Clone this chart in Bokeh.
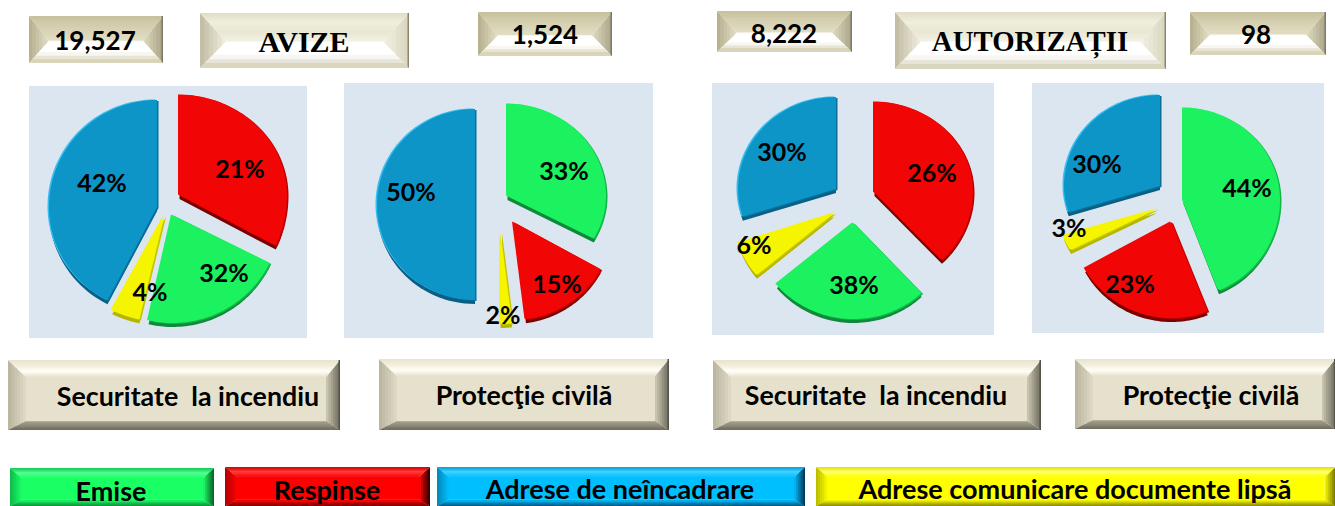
import numpy as np
from bokeh.plotting import figure
from bokeh.models import ColumnDataSource
from bokeh.core.properties import value
from bokeh.embed import file_html
from bokeh.resources import INLINE

# ---------- data ----------
top_numbers = ["19,527", "1,524", "8,222", "98"]
group_titles = ["AVIZE", "AUTORIZAȚII"]
panel_titles = ["Securitate \u00a0la incendiu", "Protecţie civilă", "Securitate \u00a0la incendiu", "Protecţie civilă"]
legend_names = ["Emise", "Respinse", "Adrese de neîncadrare", "Adrese comunicare documente lipsă"]

# slices, clockwise from the top; drawn share and printed label
pie1_series = ["Respinse", "Emise", "Lipsa", "Neincadrare"]
pie1_shares = [32, 21, 4, 42]
pie1_labels = [21, 32, 4, 42]
pie2_series = ["Emise", "Respinse", "Lipsa", "Neincadrare"]
pie2_shares = [33, 15, 2, 50]
pie2_labels = [33, 15, 2, 50]
pie3_series = ["Respinse", "Emise", "Lipsa", "Neincadrare"]
pie3_shares = [38, 26, 6, 30]
pie3_labels = [26, 38, 6, 30]
pie4_series = ["Emise", "Respinse", "Lipsa", "Neincadrare"]
pie4_shares = [44, 23, 3, 30]
pie4_labels = [44, 23, 3, 30]

# ---------- styles and layout ----------
SLICE_COL = {  # face, depth, rim-light, rim-dark
    "Emise": ("#1CF25F", "#0E8A3A", "#1CF25F", "#12B648"),
    "Respinse": ("#F20505", "#7A0000", "#F20505", "#B80000"),
    "Neincadrare": ("#0D95C8", "#0A5F85", "#35BDF0", "#0A6E98"),
    "Lipsa": ("#F5F500", "#B5B500", "#F5F500", "#C4C400"),
}
# per slice: tip x, tip y, rx, radius upward, radius downward
pie_layout = [
    [(179.5, 195, 107.5, 100, 114), (172.5, 215, 108.5, 100, 108), (164.5, 216, 114, 100, 106), (157, 207, 108, 107, 105)],
    [(507.5, 196, 98.5, 92, 88), (513.5, 222, 99.5, 90, 98), (500.5, 232, 93, 90, 92), (475, 205, 98, 96, 95)],
    [(874.5, 192, 98.5, 90, 93), (853.5, 223, 99.5, 90, 96), (834.5, 213, 100.5, 90, 97), (836, 189, 98, 92, 90)],
    [(1183.5, 200, 96.5, 92, 97), (1171.5, 222, 98.5, 90, 96), (1157.5, 209, 98.5, 90, 85), (1160, 186, 96, 91, 85)],
]
label_pos = [
    [(240, 168), (224, 272), (150, 291), (102, 182)],
    [(564, 170), (557, 283), (503, 314), (411, 191)],
    [(932, 172), (854, 284), (754, 244), (782, 151)],
    [(1247, 187), (1130, 283), (1069, 227), (1097, 163)],
]
panel_boxes = [(29, 86, 307, 338), (344, 83, 653, 338), (712, 83, 994, 335), (1032, 83, 1324, 333)]
number_boxes = [(29, 16, 163, 63), (478, 12, 612, 56), (717, 11, 852, 52), (1190, 12, 1326, 55)]
number_pos = [(95, 40), (545, 34), (784, 33), (1256, 34)]
title_boxes = [(200, 13, 409, 68), (895, 12, 1166, 69)]
title_pos = [(304, 41), (1030, 41)]
panel_title_boxes = [(8, 360, 340, 430), (379, 359, 669, 430), (713, 360, 1041, 430), (1075, 359, 1335.5, 429)]
panel_title_pos = [(188, 396), (524, 395), (876, 395), (1211, 395)]
legend_boxes = [(10, 468, 214, 506.5), (225, 467, 430, 506.5), (437, 467, 805, 506.5), (816, 467, 1335.5, 506.5)]
legend_pos = [(111, 490), (327, 489), (620, 488), (1075, 488)]

p = figure(width=1335, height=506, x_range=(0.5, 1335.5), y_range=(506.5, 0.5),
           toolbar_location=None, output_backend="svg", min_border=0,
           background_fill_color="white", border_fill_color="white", outline_line_color=None)
p.axis.visible = False
p.grid.visible = False

xs, ys, cols = [], [], []


def poly(x, y, c):
    xs.append(list(x))
    ys.append(list(y))
    cols.append(c)


def mix(a, b, t):
    a = [int(a[i:i + 2], 16) for i in (1, 3, 5)]
    b = [int(b[i:i + 2], 16) for i in (1, 3, 5)]
    return "#%02X%02X%02X" % tuple(round(u + (v - u) * t) for u, v in zip(a, b))


def ramp(stops, t):
    k = len(stops) - 1
    i = min(int(t * k), k - 1)
    return mix(stops[i], stops[i + 1], t * k - i)


def v_trap(x0a, x1a, ya, x0b, x1b, yb, stops, n=8):
    """Trapezoid between two horizontal sides, with strips of colour."""
    for i in range(n):
        t0, t1 = i / n, (i + 1) / n
        t1e = min(1, t1 + 0.6 / max(abs(yb - ya), 1))
        poly([x0a + (x0b - x0a) * t0, x1a + (x1b - x1a) * t0, x1a + (x1b - x1a) * t1e, x0a + (x0b - x0a) * t1e],
             [ya + (yb - ya) * t0, ya + (yb - ya) * t0, ya + (yb - ya) * t1e, ya + (yb - ya) * t1e],
             ramp(stops, (t0 + t1) / 2))


def h_trap(xa, y0a, y1a, xb, y0b, y1b, stops, n=6):
    """Trapezoid between two vertical sides, with strips of colour."""
    for i in range(n):
        t0, t1 = i / n, (i + 1) / n
        t1e = min(1, t1 + 0.6 / max(abs(xb - xa), 1))
        poly([xa + (xb - xa) * t0, xa + (xb - xa) * t1e, xa + (xb - xa) * t1e, xa + (xb - xa) * t0],
             [y0a + (y0b - y0a) * t0, y0a + (y0b - y0a) * t1e, y1a + (y1b - y1a) * t1e, y1a + (y1b - y1a) * t0],
             ramp(stops, (t0 + t1) / 2))


def bevel(box, bl, br, bt, bb, s):
    x0, y0, x1, y1 = box
    ix0, ix1, iy0, iy1 = x0 + bl, x1 - br, y0 + bt, y1 - bb
    h_trap(x0, y0, y1, ix0, iy0, iy1, s["left"])
    h_trap(x1, y0, y1, ix1, iy0, iy1, s["right"])
    v_trap(x0, x1, y0, ix0, ix1, iy0, s["top"], n=12)
    v_trap(x0, x1, y1, ix0, ix1, iy1, s["bottom"], n=6)
    if iy1 > iy0:
        poly([ix0, ix1, ix1, ix0], [iy0 - 0.3, iy0 - 0.3, iy1 + 0.3, iy1 + 0.3], s["face"])
    b = s.get("edge")
    if b:
        poly([x1 - 1.5, x1, x1, x1 - 1.5], [y0, y0, y1, y1], b)


# ---------- backgrounds ----------
for b in panel_boxes:
    poly([b[0], b[2], b[2], b[0]], [b[1], b[1], b[3], b[3]], "#DCE6F1")

# ---------- bevelled plates ----------
small_style = {"left": ("#B4AE8C", "#E4E0C8"), "right": ("#A8A386", "#E0DCC0"),
               "top": ("#C6C09C", "#D6D1B2", "#E2DEC4"), "bottom": ("#CFCAAA", "#FFFFFF", "#FFFFFF"),
               "face": "#F6F4E8", "edge": "#7E7A62"}
title_style = {"left": ("#BFBAA0", "#F0EEE0"), "right": ("#D8D4BC", "#F4F2E6"),
               "top": ("#E0DCC8", "#F0EEDC", "#E9E6D2", "#F3F1E4"), "bottom": ("#CFCBB3", "#FFFFFF", "#FFFFFF"),
               "face": "#F8F7EF", "edge": "#8A866E"}
panel_style = {"left": ("#B8B39D", "#E0DBC6"), "right": ("#6A675A", "#CFCBB5"),
               "top": ("#E8E3CD", "#F2EEDC", "#FFFFF8", "#E6E1CC"), "bottom": ("#6C695A", "#8E8B78", "#A6A28E"),
               "face": "#E6E1CC", "edge": "#55534A"}
legend_styles = [
    {"left": ("#0FB84C", "#1AFF64"), "right": ("#075E26", "#1AFF64"),
     "top": ("#10C850", "#50FF92", "#1AFF64"), "bottom": ("#0A8A36", "#1AFF64"), "face": "#1AFF64"},
    {"left": ("#B00000", "#FF0000"), "right": ("#2A0000", "#FF0000"),
     "top": ("#D80000", "#FF3A3A", "#FF0000"), "bottom": ("#700000", "#FF0000"), "face": "#FF0000"},
    {"left": ("#0088B8", "#00BFFF"), "right": ("#003050", "#00BFFF"),
     "top": ("#00A0D8", "#40D0FF", "#00BFFF"), "bottom": ("#005078", "#00BFFF"), "face": "#00BFFF"},
    {"left": ("#B8B800", "#FFFF00"), "right": ("#707000", "#FFFF00"),
     "top": ("#E0E000", "#FFFF70", "#FFFF00"), "bottom": ("#808000", "#FFFF00"), "face": "#FFFF00"},
]
for b in number_boxes:
    h = b[3] - b[1]
    bevel(b, 20, 20, h * 0.53, h * 0.47 - 0.1, small_style)
    poly([b[0] + 5, b[2] - 5, b[2], b[0]], [b[3] - 4, b[3] - 4, b[3], b[3]], "#DAD5B8")
for b in title_boxes:
    h = b[3] - b[1]
    bevel(b, 26, 26, h * 0.52, h * 0.48 - 0.1, title_style)
    poly([b[0] + 5, b[2] - 5, b[2], b[0]], [b[3] - 5, b[3] - 5, b[3], b[3]], "#DAD6BE")
for b in panel_title_boxes:
    bevel(b, 18, 14, 17, 9, panel_style)
for b, s in zip(legend_boxes, legend_styles):
    bevel(b, 12, 11, 10, 7, s)


# ---------- pies ----------
def slice_outline(tip, start, stop):
    tx, ty, rx, rt, rb = tip
    th = np.radians(np.linspace(start, stop, 60))
    c = np.cos(th)
    return [tx] + list(tx + rx * np.sin(th)) + [tx], [ty] + list(ty - np.where(c > 0, rt, rb) * c) + [ty]


pies = [(pie1_series, pie1_shares), (pie2_series, pie2_shares),
        (pie3_series, pie3_shares), (pie4_series, pie4_shares)]
for (series, shares), layout in zip(pies, pie_layout):
    total = sum(shares)
    a = 0.0
    for name, share, tip in zip(series, shares, layout):
        b = a + 360.0 * share / total
        x, y = slice_outline(tip, a, b)
        face, depth, light, dark = SLICE_COL[name]
        x = np.array(x)
        y = np.array(y)
        poly(x, y + 4, depth)
        poly(x + 1.5, y + 1, dark)
        poly(x - 1.5, y - 0.6, light)
        poly(x, y, face)
        a = b

p.patches("xs", "ys", source=ColumnDataSource(dict(xs=xs, ys=ys, c=cols)),
          fill_color="c", line_color=None)


def labels(texts, pos, font, size):
    src = ColumnDataSource(dict(x=[q[0] for q in pos], y=[q[1] for q in pos], t=texts))
    p.text("x", "y", text="t", source=src, text_font=value(font), text_font_size=size,
           text_font_style="bold", text_align="center", text_baseline="middle", text_color="#000000")


pie_texts = [f"{v}%" for lab in (pie1_labels, pie2_labels, pie3_labels, pie4_labels) for v in lab]
labels(pie_texts, [q for row in label_pos for q in row], "Lato", "25px")
labels(top_numbers, number_pos, "Lato", "26px")
labels(group_titles[:1], title_pos[:1], "Liberation Serif", "30px")
labels(group_titles[1:], title_pos[1:], "Liberation Serif", "28.8px")
labels(panel_titles, panel_title_pos, "Lato", "26.8px")
labels(legend_names, legend_pos, "Lato", "27px")

open("out.html", "w").write(file_html(p, INLINE))
